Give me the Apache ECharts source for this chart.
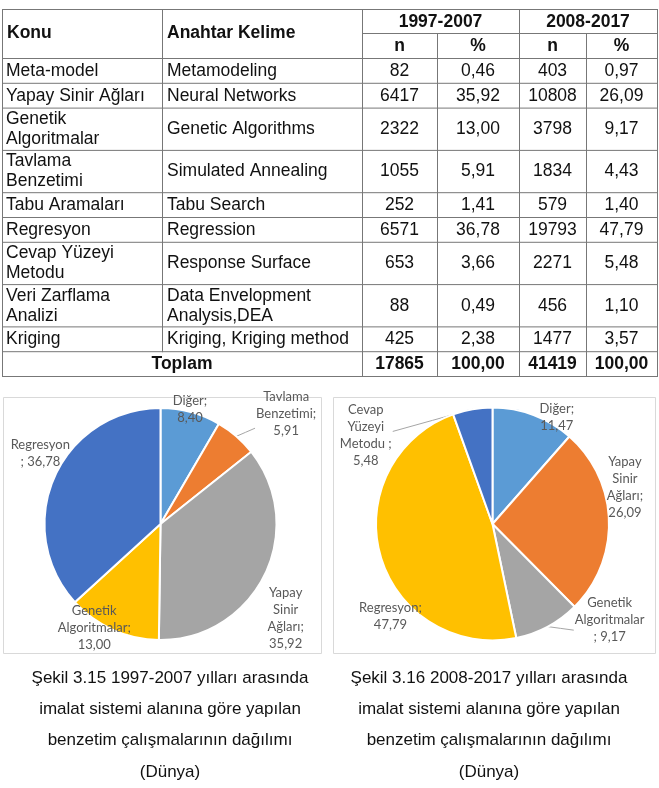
<!DOCTYPE html>
<html><head><meta charset="utf-8">
<script src="https://cdn.jsdelivr.net/npm/echarts@6/dist/echarts.min.js"></script>
<style>html,body{margin:0;padding:0;background:#fff}#c{width:659px;height:788px}</style>
</head><body><div id="c"></div>
<script>
// ---------- DATA ----------
const konu = ['Meta-model','Yapay Sinir Ağları','Genetik\nAlgoritmalar','Tavlama\nBenzetimi','Tabu Aramaları','Regresyon','Cevap Yüzeyi\nMetodu','Veri Zarflama\nAnalizi','Kriging'];
const anahtar = ['Metamodeling','Neural Networks','Genetic Algorithms','Simulated Annealing','Tabu Search','Regression','Response Surface','Data Envelopment\nAnalysis,DEA','Kriging, Kriging method'];
const n1997 = [82,6417,2322,1055,252,6571,653,88,425];
const pct1997 = [0.46,35.92,13.00,5.91,1.41,36.78,3.66,0.49,2.38];
const n2008 = [403,10808,3798,1834,579,19793,2271,456,1477];
const pct2008 = [0.97,26.09,9.17,4.43,1.40,47.79,5.48,1.10,3.57];
const totalLabel = 'Toplam';
const totals = [17865, 100.00, 41419, 100.00];
const headTop = ['Konu','Anahtar Kelime','1997-2007','2008-2017'];
const headSub = ['n','%','n','%'];

const pie1Names = ['Diğer','Tavlama Benzetimi','Yapay Sinir Ağları','Genetik Algoritmalar','Regresyon'];
const pie1Values = [8.40,5.91,35.92,13.00,36.78];
const pie1Labels = ['Diğer;\n{v}','Tavlama\nBenzetimi;\n{v}','Yapay\nSinir\nAğları;\n{v}','Genetik\nAlgoritmalar;\n{v}','Regresyon\n; {v}'];
const pie2Names = ['Diğer','Yapay Sinir Ağları','Genetik Algoritmalar','Regresyon','Cevap Yüzeyi Metodu'];
const pie2Values = [11.47,26.09,9.17,47.79,5.48];
const pie2Labels = ['Diğer;\n{v}','Yapay\nSinir\nAğları;\n{v}','Genetik\nAlgoritmalar\n; {v}','Regresyon;\n{v}','Cevap\nYüzeyi\nMetodu ;\n{v}'];

const caption1 = ['Şekil 3.15 1997-2007 yılları arasında','imalat sistemi alanına göre yapılan','benzetim çalışmalarının dağılımı','(Dünya)'];
const caption2 = ['Şekil 3.16 2008-2017 yılları arasında','imalat sistemi alanına göre yapılan','benzetim çalışmalarının dağılımı','(Dünya)'];

// ---------- STYLE / LAYOUT ----------
const fmt = v => v.toFixed(2).replace('.', ',');
const pie1Colors = ['#5B9BD5','#ED7D31','#A5A5A5','#FFC000','#4472C4'];
const pie2Colors = ['#5B9BD5','#ED7D31','#A5A5A5','#FFC000','#4472C4'];
const PIES = [{cx:160.5, cy:524, r:116}, {cx:492.5, cy:524, r:116.5}];
const place = [
  [{s:-0.7,f:1.02},{s:7.9,f:1.44,line:true,ly:0.28},{s:10.8,f:1.35},{s:8.4,f:1.06},{s:6.5,f:1.20}],
  [{s:10.4,f:1.07},{s:-13.85,f:1.18},{s:-22.4,f:1.30,line:true,ly:0.2},{s:-26.3,f:1.18},{s:-45,f:1.33,line:true,ly:-0.05}]
];
const pieVals = [pie1Values, pie2Values];

const FONT = "'Liberation Sans', Arial, sans-serif";
const FS = 17.5;
const cols = [2,162,362,437,519,586,657];
const yTop = 9, yMid = 33, yHead = 58;
const hSingle = 24.8, hDouble = 42.3;
const lineC = '#777';

const g = [];
function hl(x1,x2,y){ g.push({type:'line',shape:{x1:x1,y1:y+0.5,x2:x2+1,y2:y+0.5},style:{stroke:lineC,lineWidth:1},silent:true}); }
function vl(x,y1,y2){ g.push({type:'line',shape:{x1:x+0.5,y1:y1,x2:x+0.5,y2:y2+1},style:{stroke:lineC,lineWidth:1},silent:true}); }
function tx(text,x,y,align,bold,extra){
  g.push({type:'text',silent:true,style:Object.assign({text:text,x:x,y:y,align:align,verticalAlign:'middle',
    fontFamily:FONT,fontSize:FS,fontWeight:bold?'bold':'normal',fill:'#111',lineHeight:20},extra||{})});
}
// header
tx(headTop[0], cols[0]+5, (yTop+yHead)/2, 'left', true);
tx(headTop[1], cols[1]+5, (yTop+yHead)/2, 'left', true);
tx(headTop[2], (cols[2]+cols[4])/2, (yTop+yMid)/2+1, 'center', true);
tx(headTop[3], (cols[4]+cols[6])/2, (yTop+yMid)/2+1, 'center', true);
for (let i=0;i<4;i++) tx(headSub[i], (cols[2+i]+cols[3+i])/2, (yMid+yHead)/2+1, 'center', true);

// body rows
const rowY = [yHead];
let y = yHead;
for (let i=0;i<konu.length;i++){
  const lines = Math.max(konu[i].split('\n').length, anahtar[i].split('\n').length);
  const h = lines>1 ? hDouble : hSingle;
  const cy = y + h/2 + 0.5;
  tx(konu[i], cols[0]+4, cy, 'left', false);
  tx(anahtar[i], cols[1]+5, cy, 'left', false);
  tx(String(n1997[i]), (cols[2]+cols[3])/2, cy, 'center', false);
  tx(fmt(pct1997[i]), (cols[3]+cols[4])/2, cy, 'center', false);
  tx(String(n2008[i]), (cols[4]+cols[5])/2, cy, 'center', false);
  tx(fmt(pct2008[i]), (cols[5]+cols[6])/2, cy, 'center', false);
  y += h; rowY.push(y);
}
const yBodyEnd = y;
const cyT = y + hSingle/2 + 0.5;
tx(totalLabel, (cols[0]+cols[2])/2, cyT, 'center', true);
tx(String(totals[0]), (cols[2]+cols[3])/2, cyT, 'center', true);
tx(fmt(totals[1]), (cols[3]+cols[4])/2, cyT, 'center', true);
tx(String(totals[2]), (cols[4]+cols[5])/2, cyT, 'center', true);
tx(fmt(totals[3]), (cols[5]+cols[6])/2, cyT, 'center', true);
y += hSingle;
const yEnd = y;

// grid lines
hl(cols[0], cols[6], yTop);
hl(cols[2], cols[6], yMid);
rowY.forEach(v => hl(cols[0], cols[6], v));
hl(cols[0], cols[6], yEnd);
vl(cols[0], yTop, yEnd);
vl(cols[1], yTop, yBodyEnd);
vl(cols[2], yTop, yEnd);
vl(cols[3], yMid, yEnd);
vl(cols[4], yTop, yEnd);
vl(cols[5], yMid, yEnd);
vl(cols[6], yTop, yEnd);

// chart panels
g.push({type:'rect',silent:true,z:-1,shape:{x:3.5,y:397.5,width:318,height:256},style:{fill:'#fff',stroke:'#d9d9d9',lineWidth:1}});
g.push({type:'rect',silent:true,z:-1,shape:{x:333.5,y:397.5,width:322,height:256},style:{fill:'#fff',stroke:'#d9d9d9',lineWidth:1}});

// captions
[[caption1,170],[caption2,489]].forEach(([c,x]) => {
  g.push({type:'text',silent:true,style:{text:c.join('\n'),x:x,y:725,align:'center',verticalAlign:'middle',
    fontFamily:FONT,fontSize:17,fill:'#111',lineHeight:31.4}});
});

function labelLayout(p){
  const si = p.seriesIndex, idx = p.dataIndex;
  const geo = PIES[si], vals = pieVals[si];
  const total = vals.reduce((a,b)=>a+b,0);
  let cum = 0; for (let i=0;i<idx;i++) cum += vals[i];
  const mid = (cum + vals[idx]/2)/total*360;
  const pl = place[si][idx];
  const a = (mid + pl.s)*Math.PI/180;
  const x = geo.cx + pl.f*geo.r*Math.sin(a), yy = geo.cy - pl.f*geo.r*Math.cos(a);
  const res = {x:x, y:yy, align:'center', verticalAlign:'middle'};
  if (pl.line){
    const ma = mid*Math.PI/180;
    const sx = geo.cx + geo.r*Math.sin(ma), sy = geo.cy - geo.r*Math.cos(ma);
    const w = p.labelRect.width, h = p.labelRect.height;
    const ex = x + (x > sx ? -1 : 1)*(w/2+1), ey = yy + pl.ly*h;
    res.labelLinePoints = [[sx,sy],[(sx+ex)/2,(sy+ey)/2],[ex,ey]];
  }
  return res;
}

function pieSeries(names, vals, colors, labels, geo, si){
  return {
    type:'pie', radius:geo.r, center:[geo.cx, geo.cy], startAngle:90, clockwise:true,
    avoidLabelOverlap:false, animation:false, silent:true,
    itemStyle:{borderColor:'#fff', borderWidth:2},
    label:{show:true, position:'outside', color:'#595959', fontFamily:'Lato, sans-serif', fontSize:13, lineHeight:17,
      formatter: p => labels[p.dataIndex].replace('{v}', fmt(p.value))},
    labelLine:{show:false, lineStyle:{color:'#a6a6a6', width:1}, length:10, length2:10},
    labelLayout: labelLayout,
    data: names.map((n,i)=>({name:n, value:vals[i], itemStyle:{color:colors[i]},
      labelLine: place[si][i].line ? {show:true} : {show:false}}))
  };
}

const chart = echarts.init(document.getElementById('c'));
chart.setOption({
  backgroundColor:'#fff',
  animation:false,
  graphic:{elements:g},
  series:[
    pieSeries(pie1Names, pie1Values, pie1Colors, pie1Labels, PIES[0], 0),
    pieSeries(pie2Names, pie2Values, pie2Colors, pie2Labels, PIES[1], 1)
  ]
});
</script></body></html>
